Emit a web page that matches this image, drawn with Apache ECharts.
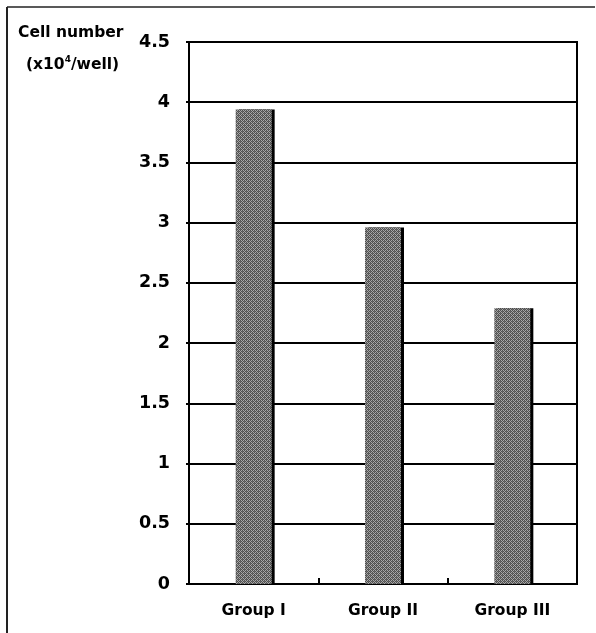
<!DOCTYPE html>
<html>
<head>
<meta charset="utf-8">
<script src="https://cdn.jsdelivr.net/npm/echarts@6/dist/echarts.min.js"></script>
<style>html,body{margin:0;padding:0;background:#fff}#c{width:596px;height:633px}</style>
</head>
<body>
<div id="c"></div>
<script>
var categories = ['Group I', 'Group II', 'Group III'];
var cellNumbers = [3.94, 2.96, 2.29];
var yTicks = [0, 0.5, 1, 1.5, 2, 2.5, 3, 3.5, 4, 4.5];

// halftone-like fill pattern
var pc = document.createElement('canvas');
pc.width = 4; pc.height = 4;
var px = pc.getContext('2d');
px.fillStyle = '#a8a8a8'; px.fillRect(0, 0, 4, 4);
px.fillStyle = '#505050';
px.fillRect(0, 0, 1, 1); px.fillRect(2, 0, 1, 1); px.fillRect(1, 1, 1, 1); px.fillRect(3, 1, 1, 1);
px.fillRect(0, 2, 1, 1); px.fillRect(2, 2, 1, 1); px.fillRect(1, 3, 1, 1); px.fillRect(3, 3, 1, 1);
px.fillStyle = '#6a6a6a';
px.fillRect(0, 1, 1, 1); px.fillRect(2, 3, 1, 1);

var chart = echarts.init(document.getElementById('c'), null, {renderer: 'canvas'});
var font = 'DejaVu Sans, Verdana, sans-serif';
chart.setOption({
  animation: false,
  backgroundColor: '#fff',
  grid: {left: 189, right: 19, top: 42, bottom: 49, show: true, borderColor: '#000', borderWidth: 2, backgroundColor: 'transparent'},
  graphic: [
    {type: 'line', shape: {x1: 7, y1: 7, x2: 595, y2: 7}, style: {stroke: '#222', lineWidth: 1.5}},
    {type: 'line', shape: {x1: 7, y1: 7, x2: 7, y2: 633}, style: {stroke: '#222', lineWidth: 2}},
    {type: 'text', left: 18, top: 25, style: {
      text: 'Cell number', fontFamily: font, fontWeight: 'bold', fontSize: 15.5, fill: '#000'
    }},
    {type: 'text', left: 26, top: 55, style: {
      text: '{a|(x10}{s|4}{a|/well)}',
      rich: {
        a: {fontFamily: font, fontWeight: 'bold', fontSize: 15.5, fill: '#000', lineHeight: 20},
        s: {fontFamily: font, fontWeight: 'bold', fontSize: 9, fill: '#000', lineHeight: 20, verticalAlign: 'top', padding: [0, 0, 12, 0]}
      }
    }}
  ],
  xAxis: {
    type: 'category',
    data: categories,
    axisLine: {lineStyle: {color: '#000', width: 2}},
    axisTick: {show: true, inside: true, length: 6, lineStyle: {color: '#000', width: 2}},
    axisLabel: {fontFamily: font, fontWeight: 'bold', fontSize: 15.5, color: '#000', margin: 19},
    splitLine: {show: false}
  },
  yAxis: {
    type: 'value',
    min: 0, max: 4.5, interval: 0.5,
    axisLine: {show: true, lineStyle: {color: '#000', width: 2}},
    axisTick: {show: true, length: 3, lineStyle: {color: '#000', width: 2}},
    axisLabel: {fontFamily: font, fontWeight: 'bold', fontSize: 17.5, color: '#000', margin: 19,
      padding: [6, 0, 0, 0],
      formatter: function (v) { return yTicks.indexOf(v) >= 0 ? String(v) : ''; }},
    splitLine: {show: true, lineStyle: {color: '#000', width: 2}}
  },
  series: [{
    type: 'bar',
    data: cellNumbers,
    barWidth: 36,
    itemStyle: {
      color: {image: pc, repeat: 'repeat'},
      shadowColor: '#000', shadowOffsetX: 3, shadowOffsetY: 0, shadowBlur: 0
    }
  }]
});
</script>
</body>
</html>
